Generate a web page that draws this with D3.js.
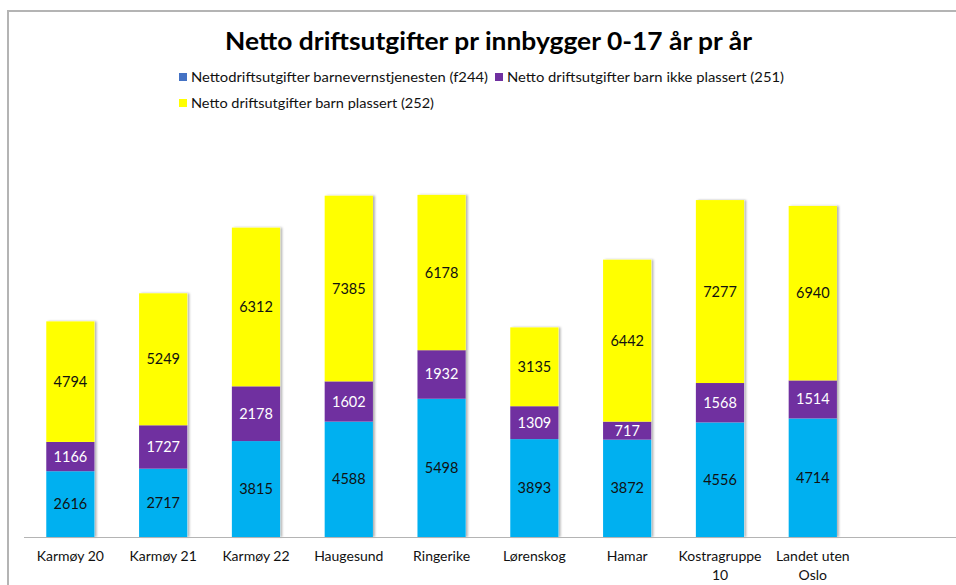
<!DOCTYPE html>
<html>
<head>
<meta charset="utf-8">
<script src="https://cdn.jsdelivr.net/npm/d3@7"></script>
<style>
  body { margin: 0; background: #fff; }
  svg { display: block; }
  text { font-family: Lato, "Open Sans", sans-serif; }
</style>
</head>
<body>
<svg id="chart" width="956" height="585"></svg>
<script>
const categories = [
  ["Karmøy 20"], ["Karmøy 21"], ["Karmøy 22"], ["Haugesund"], ["Ringerike"],
  ["Lørenskog"], ["Hamar"], ["Kostragruppe", "10"], ["Landet uten", "Oslo"]
];
const seriesNames = [
  "Nettodriftsutgifter barnevernstjenesten (f244)",
  "Netto driftsutgifter barn ikke plassert (251)",
  "Netto driftsutgifter barn plassert (252)"
];
const barnevern = [2616, 2717, 3815, 4588, 5498, 3893, 3872, 4556, 4714];
const ikkePlassert = [1166, 1727, 2178, 1602, 1932, 1309, 717, 1568, 1514];
const plassert = [4794, 5249, 6312, 7385, 6178, 3135, 6442, 7277, 6940];
const yDomain = [0, 14000];

const barColors = ["#00B0F0", "#7030A0", "#FFFF00"];
const legendColors = ["#4472C4", "#7030A0", "#FFFF00"];
const labelColors = ["#111", "#fff", "#111"];

const svg = d3.select("#chart");

// frame
svg.append("path")
  .attr("d", "M8,585 L8,11 L956,11")
  .attr("fill", "none").attr("stroke", "#b4b4b4").attr("stroke-width", 2);

// title
svg.append("text")
  .attr("x", 488.5).attr("y", 50)
  .attr("text-anchor", "middle")
  .attr("font-size", 24).attr("font-weight", "bold").attr("fill", "#000")
  .attr("textLength", 527).attr("lengthAdjust", "spacingAndGlyphs")
  .text("Netto driftsutgifter pr innbygger 0-17 år pr år");

// legend
const legendItems = [
  { x: 179, y: 82, w: 297 }, { x: 495, y: 82, w: 277 }, { x: 179, y: 108, w: 243 }
];
seriesNames.forEach((name, i) => {
  const it = legendItems[i];
  const g = svg.append("g").attr("transform", `translate(${it.x},${it.y})`);
  g.append("rect").attr("x", 0).attr("y", -9).attr("width", 8).attr("height", 8)
    .attr("fill", legendColors[i]);
  g.append("text").attr("x", 12).attr("y", 0).attr("font-size", 14).attr("fill", "#111")
    .attr("textLength", it.w).attr("lengthAdjust", "spacingAndGlyphs")
    .text(name);
});

const x = d3.scaleBand()
  .domain(categories.map((c, i) => i))
  .range([24, 24 + 92.8 * categories.length])
  .paddingInner(0.48).paddingOuter(0.24);

const y = d3.scaleLinear().domain(yDomain).range([537, 185]);

const data = categories.map((c, i) => ({
  i, vals: [barnevern[i], ikkePlassert[i], plassert[i]]
}));
const stack = d3.stack().keys([0, 1, 2]).value((d, k) => d.vals[k]);
const layers = stack(data);

// shadow
const defs = svg.append("defs");
const f = defs.append("filter").attr("id", "sh").attr("x", "-20%").attr("y", "-5%").attr("width", "150%").attr("height", "110%");
f.append("feDropShadow").attr("dx", 2).attr("dy", 0).attr("stdDeviation", 1.2)
  .attr("flood-color", "#000").attr("flood-opacity", 0.3);

const gBars = svg.append("g");
data.forEach((d, i) => {
  const total = d.vals.reduce((a, b) => a + b, 0);
  gBars.append("rect")
    .attr("x", x(i)).attr("width", x.bandwidth())
    .attr("y", y(total)).attr("height", y(0) - y(total))
    .attr("fill", "#fff").attr("filter", "url(#sh)");
});
layers.forEach((layer, k) => {
  gBars.selectAll(null).data(layer).enter().append("rect")
    .attr("x", d => x(d.data.i)).attr("width", x.bandwidth())
    .attr("y", d => y(d[1])).attr("height", d => y(d[0]) - y(d[1]))
    .attr("fill", barColors[k]);
  gBars.selectAll(null).data(layer).enter().append("text")
    .attr("x", d => x(d.data.i) + x.bandwidth() / 2)
    .attr("y", d => (y(d[0]) + y(d[1])) / 2 + 5)
    .attr("text-anchor", "middle").attr("font-size", 14.5)
    .attr("fill", labelColors[k])
    .text(d => d.data.vals[k]);
});

// axis line
svg.append("line").attr("x1", 24).attr("x2", 956).attr("y1", 537.5).attr("y2", 537.5)
  .attr("stroke", "#b4b4b4").attr("stroke-width", 1.2);

// x labels
const xl = svg.append("g");
categories.forEach((lines, i) => {
  const t = xl.append("text")
    .attr("x", x(i) + x.bandwidth() / 2).attr("y", 561)
    .attr("text-anchor", "middle").attr("font-size", 14).attr("fill", "#111");
  lines.forEach((ln, j) => {
    t.append("tspan").attr("x", x(i) + x.bandwidth() / 2).attr("dy", j === 0 ? 0 : 19).text(ln);
  });
});
</script>
</body>
</html>
